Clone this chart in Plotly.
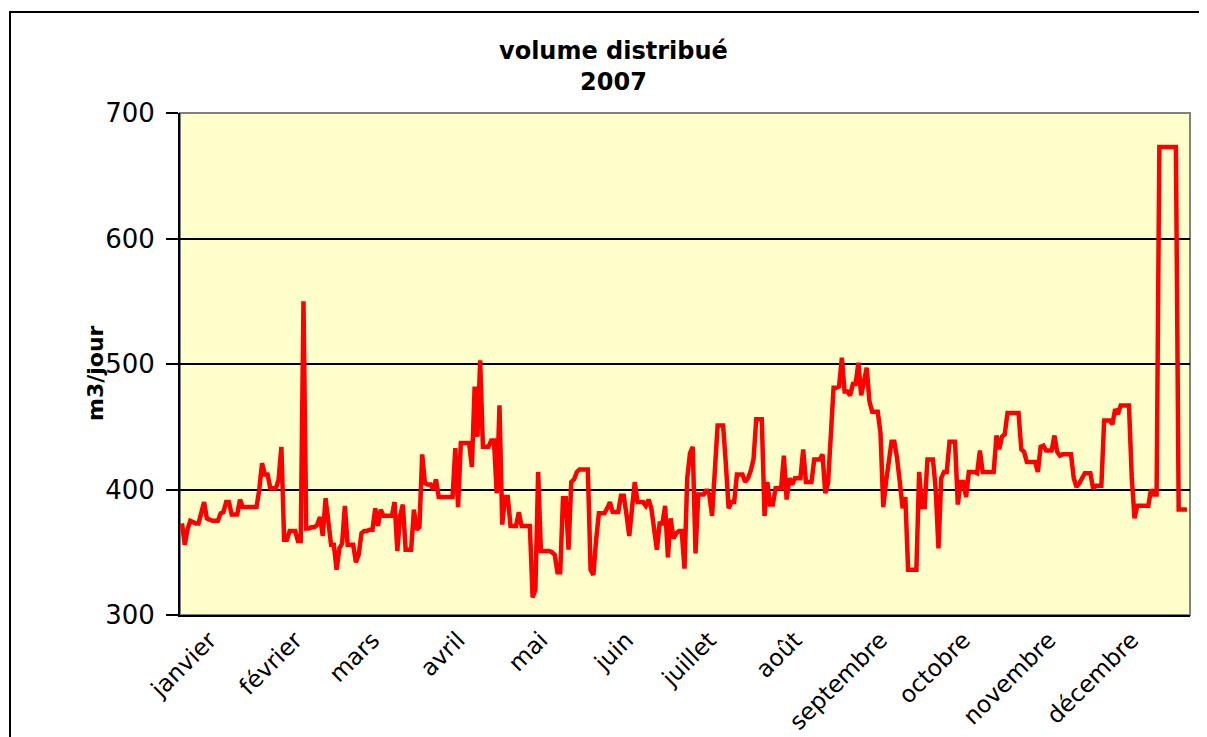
import plotly.graph_objects as go

months = ["janvier", "février", "mars", "avril", "mai", "juin", "juillet",
          "août", "septembre", "octobre", "novembre", "décembre"]

jan = [373,356,368,375,374,373,373,382,390,377,376,375,375,375,381,382,390,390,380,380,380,392,386,386,386,386,386,386,400,421,412]
feb = [412,401,401,401,408,434,360,360,367,367,367,359,359,550,369,369,370,370,372,378,363,393,373,356,356,336,353,357]
mar = [387,356,356,356,342,348,365,367,367,368,368,385,371,384,379,379,379,379,390,351,379,388,352,352,352,384,368,370,428,405,404]
apr = [404,400,408,394,394,394,394,394,394,433,386,437,437,437,437,418,482,442,503,434,434,434,439,439,397,467,372,394,394,371]
may = [371,371,382,371,371,371,371,314,320,414,351,351,351,351,350,348,334,334,393,393,352,406,408,414,416,416,416,416,336,332,360]
jun = [381,381,381,385,390,382,382,382,395,395,380,363,385,406,390,390,390,387,392,385,370,352,373,373,387,346,377,361,365,367]
jul = [367,337,409,429,434,349,396,396,396,400,396,379,422,451,451,451,420,385,390,390,412,412,412,406,409,415,424,456,456,456,379]
aug = [406,388,388,401,401,401,427,392,409,404,409,409,409,432,406,406,406,424,424,424,428,397,405,440,481,481,482,505,478,478,475]
sep = [484,484,501,475,486,497,470,462,462,462,445,386,406,420,438,438,425,406,385,394,336,336,336,336,414,386,386,424,424,424]
oct_ = [400,353,409,414,414,438,438,438,388,406,406,394,414,414,414,413,431,414,414,414,414,414,443,432,442,444,461,461,461,461,461]
nov = [432,430,422,422,422,422,414,434,435,431,431,431,443,430,427,428,428,428,428,409,402,405,410,413,413,413,401,403,403,403]
dec = [455,455,455,452,464,460,467,467,467,467,410,377,387,387,387,387,387,400,396,396,673,673,673,673,673,673,673,384,384,384,384]

month_data = [jan, feb, mar, apr, may, jun, jul, aug, sep, oct_, nov, dec]
values = [v for m in month_data for v in m]
days = list(range(len(values)))

# tick position: around the middle of each month
tickvals = []
start = 0
for m in month_data:
    tickvals.append(start + 10)
    start += len(m)

y_ticks = [300, 400, 500, 600, 700]

FONT = "DejaVu Sans"

fig = go.Figure()
fig.add_trace(go.Scatter(x=days, y=values, mode="lines",
                         line=dict(color="#FF0000", width=4.5),
                         hoverinfo="skip", showlegend=False))

fig.update_layout(
    width=1207, height=737,
    margin=dict(l=172, r=25, t=105, b=130),
    paper_bgcolor="white",
    plot_bgcolor="#FFFFCC",
    showlegend=False,
    xaxis=dict(range=[-0.72, 365.1], tickvals=tickvals, ticktext=months,
               tickangle=-45, showgrid=False, zeroline=False, automargin=False,
               showline=True, linecolor="black", linewidth=2,
               ticks="", tickfont=dict(family=FONT, size=23.5, color="black")),
    yaxis=dict(range=[300, 700], tickvals=y_ticks, showgrid=True, automargin=False,
               gridcolor="black", gridwidth=1.5, zeroline=False,
               showline=True, linecolor="black", linewidth=2,
               ticks="outside", ticklen=12, tickwidth=2, tickcolor="black",
               ticklabelstandoff=6,
               tickfont=dict(family=FONT, size=26, color="black")),
    shapes=[
        dict(type="rect", xref="paper", yref="paper", x0=0, x1=1, y0=0, y1=1,
             line=dict(color="#808080", width=2), fillcolor="rgba(0,0,0,0)",
             layer="below"),
        dict(type="rect", xref="paper", yref="paper",
             x0=-0.1683, x1=1.05, y0=-0.35, y1=1.2012,
             line=dict(color="black", width=2), fillcolor="rgba(0,0,0,0)"),
    ],
    annotations=[
        dict(text="<b>volume distribué</b><br><b>2007</b>", xref="paper", yref="paper",
             x=(613 - 180) / 1010, y=(615 - 66) / 502, xanchor="center", yanchor="middle",
             showarrow=False, font=dict(family=FONT, size=24, color="black")),
        dict(text="<b>m3/jour</b>", xref="paper", yref="paper",
             x=(95 - 180) / 1010, y=(615 - 373) / 502, xanchor="center", yanchor="middle",
             textangle=-90, showarrow=False,
             font=dict(family=FONT, size=22, color="black")),
    ],
)

fig.write_html("out.html")
